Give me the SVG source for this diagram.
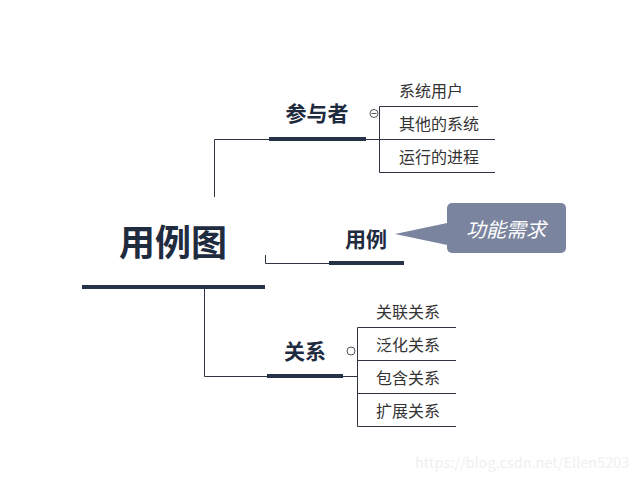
<svg xmlns="http://www.w3.org/2000/svg" width="642" height="483" viewBox="0 0 642 483">
<style>
text{font-family:"Noto Sans CJK SC","Liberation Sans",sans-serif}
.thin{stroke:#2e3440;stroke-width:1;fill:none}
.bar{stroke:#253248;stroke-width:4;fill:none}
.main{font-size:36px;font-weight:bold;fill:#1f2b3e;text-anchor:middle}
.sub{font-size:21px;font-weight:bold;fill:#1f2b3e;text-anchor:middle}
.leaf{font-size:16px;fill:#333;}
.col{fill:#fff;stroke:#555;stroke-width:1}
</style>
<rect width="642" height="483" fill="#fff"/>
<g id="connectors">
<path class="thin" d="M214.5 197V139.5H270"/>
<path class="thin" d="M366 139.5H379.5M379.5 106.5V172.5M379.5 106.5H478M379.5 139.5H495M379.5 172.5H495"/>
<path class="thin" d="M265.5 255V263.5H330"/>
<path class="thin" d="M204.5 289V376.5H268"/>
<path class="thin" d="M343 376.5H357.5M357.5 327.5V426.5M357.5 327.5H456M357.5 360.5H456M357.5 393.5H456M357.5 426.5H456"/>
</g>
<g id="root">
<text class="main" x="173" y="256">用例图</text>
<line class="bar" x1="82" y1="287" x2="265" y2="287"/>
</g>
<g id="actors">
<text class="sub" x="317" y="121">参与者</text>
<line class="bar" x1="269" y1="139" x2="366" y2="139"/>
<circle class="col" cx="374" cy="113.5" r="4"/>
<line x1="371.5" y1="113.5" x2="376.5" y2="113.5" stroke="#555" stroke-width="1"/>
</g>
<g id="actor1"><text class="leaf" x="399" y="97">系统用户</text></g>
<g id="actor2"><text class="leaf" x="399" y="130">其他的系统</text></g>
<g id="actor3"><text class="leaf" x="399" y="163">运行的进程</text></g>
<g id="usecase">
<text class="sub" x="366" y="247">用例</text>
<line class="bar" x1="329" y1="263" x2="404" y2="263"/>
</g>
<g id="callout">
<path d="M395 234L452 222V246Z" fill="#7a849e"/>
<rect x="447" y="203" width="119" height="50" rx="5" fill="#7a849e"/>
<text x="506" y="237" font-size="20" font-style="italic" fill="#fff" text-anchor="middle">功能需求</text>
</g>
<g id="relations">
<text class="sub" x="305" y="359">关系</text>
<line class="bar" x1="267" y1="376" x2="343" y2="376"/>
<circle class="col" cx="351" cy="351" r="4"/>
</g>
<g id="rel1"><text class="leaf" x="376" y="318">关联关系</text></g>
<g id="rel2"><text class="leaf" x="376" y="351">泛化关系</text></g>
<g id="rel3"><text class="leaf" x="376" y="384">包含关系</text></g>
<g id="rel4"><text class="leaf" x="376" y="417">扩展关系</text></g>
<text x="415" y="468" font-family="Liberation Sans, sans-serif" font-size="14.5" fill="#f0f0f0">https://blog.csdn.net/Ellen5203</text>
</svg>
